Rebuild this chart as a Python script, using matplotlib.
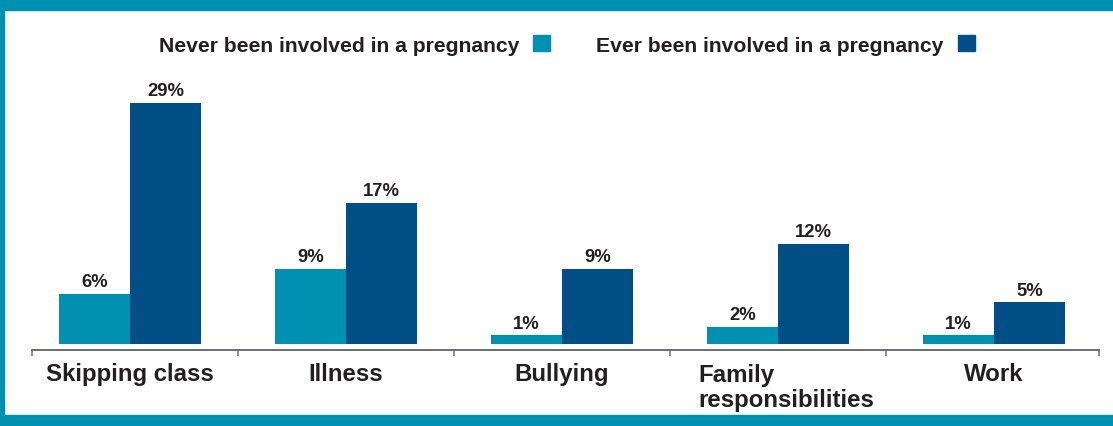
import matplotlib
matplotlib.use("Agg")
import matplotlib.pyplot as plt
from matplotlib.patches import Rectangle
from matplotlib.transforms import blended_transform_factory, offset_copy
import numpy as np

plt.rcParams["font.family"] = ["Liberation Sans", "DejaVu Sans"]
plt.rcParams["font.weight"] = "bold"

# Reasons for missing school, % of respondents
categories = ["Skipping class", "Illness", "Bullying", "Family\nresponsibilities", "Work"]
never_pregnant = [6, 9, 1, 2, 1]
ever_pregnant = [29, 17, 9, 12, 5]
series_names = ["Never been involved in a pregnancy", "Ever been involved in a pregnancy"]

TEAL = "#0090B2"
NAVY = "#014F86"
TEXT = "#231F20"

W, H = 1113, 427
fig = plt.figure(figsize=(W / 100, H / 100), dpi=100)

# teal frame around the panel (top, left, bottom bands)
fig.patches.append(Rectangle((0, 1 - 10.5 / H), 1, 10.5 / H, transform=fig.transFigure,
                             color=TEAL, zorder=0))
fig.patches.append(Rectangle((0, 0), 4 / W, 1, transform=fig.transFigure, color=TEAL, zorder=0))
fig.patches.append(Rectangle((0, 0), 1, 11 / H, transform=fig.transFigure, color=TEAL, zorder=0))

ax_left, ax_right = 32, 1099
ax_bottom, ax_top = 344.7, 80
ax = fig.add_axes([ax_left / W, (H - ax_bottom) / H,
                   (ax_right - ax_left) / W, (ax_bottom - ax_top) / H])

x = np.arange(len(categories))
bw = 0.329
b1 = ax.bar(x - bw / 2, never_pregnant, bw, color=TEAL, linewidth=0)
b2 = ax.bar(x + bw / 2, ever_pregnant, bw, color=NAVY, linewidth=0)

for bars, vals in ((b1, never_pregnant), (b2, ever_pregnant)):
    for bar, v in zip(bars, vals):
        ax.annotate(f"{v}%", (bar.get_x() + bar.get_width() / 2, v),
                    xytext=(0, 5.5), textcoords="offset points",
                    ha="center", va="baseline", fontsize=13.3, color=TEXT)

ax.set_xlim(-0.4537, 4.486)
ax.set_ylim(0, 31.9)

for side in ("top", "right", "left"):
    ax.spines[side].set_visible(False)
ax.spines["bottom"].set_position(("outward", 4.3))
ax.spines["bottom"].set_color("#6d6e71")
ax.spines["bottom"].set_linewidth(1.4)
ax.set_yticks([])

ax.set_xticks(np.r_[-0.4537, x[:-1] + 0.5, 4.486])
ax.set_xticklabels([])
ax.tick_params(axis="x", direction="out", length=4.5, width=1.1, color="#6d6e71")

# category names under the axis; first line baseline sits at the same height
label_tr = blended_transform_factory(ax.transData, fig.transFigure)
line_gap = 26  # px between baselines
for xi, name in zip(x, categories):
    extra = name.count("\n") * line_gap
    tr = offset_copy(label_tr, fig=fig, y=-extra * 72 / 100, units="points")
    ax.text(xi + (0.04 if extra else 0), (H - 381) / H, name, transform=tr,
            ha="center", va="baseline", multialignment="left",
            fontsize=17.3, color=TEXT, linespacing=1.13)

# legend: text followed by a colour square
legend_items = [(series_names[0], TEAL, 519, 533), (series_names[1], NAVY, 943, 958)]
for name, col, text_right, sq_left in legend_items:
    fig.text(text_right / W, (H - 51.5) / H, name, ha="right", va="baseline",
             fontsize=15.2, color=TEXT)
    fig.patches.append(Rectangle((sq_left / W, (H - 52) / H), 17 / W, 16 / H,
                                 transform=fig.transFigure, color=col))

fig.savefig("out.png", dpi=100)
